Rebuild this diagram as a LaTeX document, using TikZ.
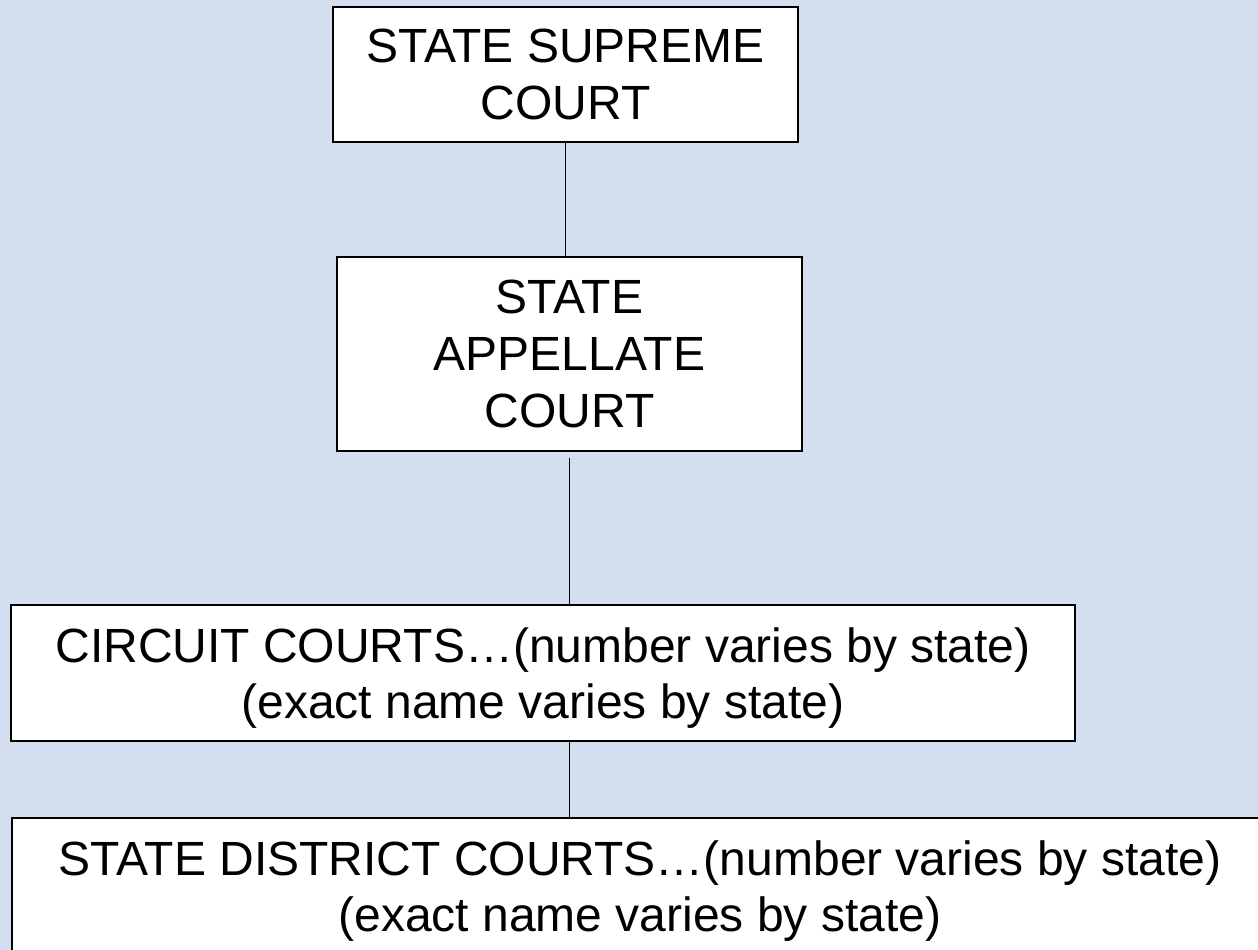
\documentclass[tikz,border=0pt]{standalone}
\usepackage{fontspec}
\setmainfont{Liberation Sans}
\definecolor{bgblue}{RGB}{211,222,238}
\begin{document}
\begin{tikzpicture}[x=1pt,y=-1pt,
  courtbox/.style={draw=black, line width=1.7pt, fill=white, inner sep=0pt,
    align=center, text depth=0pt, font=\fontsize{48}{57}\selectfont},
  widebox/.style={courtbox, font=\fontsize{48}{56}\selectfont},
  link/.style={draw=black, line width=1.5pt}]
\clip (0,0) rectangle (1258,950);
\fill[bgblue] (0,0) rectangle (1258,950);
\node[courtbox, minimum width=465pt, minimum height=135pt] (b1) at (565.5,74.5)
  {STATE SUPREME\\COURT};
\node[courtbox, minimum width=465pt, minimum height=194pt] (b2) at (569.5,354)
  {STATE\\APPELLATE\\COURT};
\node[widebox, minimum width=1064pt, minimum height=136pt] (b3) at (543,673)
  {CIRCUIT COURTS…(number varies by state)\\(exact name varies by state)};
\node[widebox, minimum width=1256pt, minimum height=136pt] (b4) at (640,886)
  {STATE DISTRICT COURTS…(number varies by state)\\(exact name varies by state)};
\coordinate (c2) at ([yshift=-6pt]b2.south);
\draw[link] (b1.south) -- (b1.south |- b2.north);
\draw[link] (c2) -- (c2 |- b3.north);
\draw[link] (c2 |- b3.south) -- (c2 |- b4.north);
\end{tikzpicture}
\end{document}
